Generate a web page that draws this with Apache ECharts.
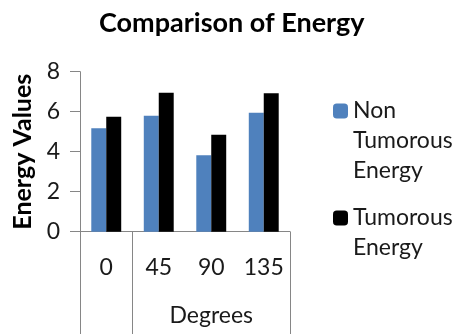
<!DOCTYPE html>
<html>
<head>
<meta charset="utf-8">
<script src="https://cdn.jsdelivr.net/npm/echarts@6/dist/echarts.min.js"></script>
<style>
html,body{margin:0;padding:0;background:#fff;}
#c{width:465px;height:334px;}
</style>
</head>
<body>
<div id="c"></div>
<script>
var categories = ['0', '45', '90', '135'];
var nonTumorous = [5.17, 5.8, 3.82, 5.95];
var tumorous = [5.75, 6.95, 4.85, 6.92];
var yTicks = [0, 2, 4, 6, 8];
var groupLabel = 'Degrees';
var seriesNames = ['Non Tumorous Energy', 'Tumorous Energy'];
var legendLines = [['Non', 'Tumorous', 'Energy'], ['Tumorous', 'Energy']];

var FONT = 'Lato';
var chart = echarts.init(document.getElementById('c'), null, {renderer: 'canvas'});
var axisGray = '#868686';
var textCol = '#1a1a1a';
var L = 30;

function legendText(lines) {
  // leading blank lines so the first line sits level with the icon
  var pad = '';
  for (var i = 0; i < lines.length - 1; i++) pad += ' \n';
  return pad + lines.join('\n');
}

chart.setOption({
  animation: false,
  backgroundColor: '#fff',
  title: {
    text: 'Comparison of Energy',
    left: 94, top: 5,
    textStyle: {fontFamily: FONT, fontWeight: 'bold', fontSize: 27, color: '#000'}
  },
  legend: [{
    data: [seriesNames[0]],
    left: 333, top: 111 - 2.5 * L,
    itemWidth: 15, itemHeight: 15,
    padding: 0,
    formatter: function () { return legendText(legendLines[0]); },
    textStyle: {fontFamily: FONT, fontSize: 23, color: textCol, lineHeight: L}
  }, {
    data: [seriesNames[1]],
    left: 333, top: 218 - 1.5 * L,
    itemWidth: 15, itemHeight: 15,
    padding: 0,
    formatter: function () { return legendText(legendLines[1]); },
    textStyle: {fontFamily: FONT, fontSize: 23, color: textCol, lineHeight: L}
  }],
  grid: {left: 80, right: 175, top: 71.7, bottom: 102.3, containLabel: false},
  xAxis: [{
    type: 'category',
    data: categories,
    position: 'bottom',
    axisLine: {show: true, lineStyle: {color: axisGray, width: 1}},
    axisTick: {show: false},
    axisLabel: {fontFamily: FONT, fontSize: 23, color: textCol, margin: 24}
  }, {
    type: 'value',
    min: 0, max: 4, interval: 1,
    position: 'bottom',
    axisLine: {show: false},
    splitLine: {show: false},
    axisTick: {show: true, customValues: [0, 1, 4], length: 103, lineStyle: {color: axisGray, width: 1}},
    axisLabel: {
      show: true, customValues: [2.5], margin: 72,
      formatter: function () { return groupLabel; },
      fontFamily: FONT, fontSize: 23, color: textCol
    }
  }],
  yAxis: {
    type: 'value',
    min: yTicks[0], max: yTicks[yTicks.length - 1], interval: 2,
    name: 'Energy Values',
    nameLocation: 'middle',
    nameGap: 45,
    nameTextStyle: {fontFamily: FONT, fontWeight: 'bold', fontSize: 25, color: '#000'},
    axisLine: {show: true, lineStyle: {color: axisGray, width: 1}},
    axisTick: {show: true, length: 10, lineStyle: {color: axisGray}},
    splitLine: {show: false},
    axisLabel: {fontFamily: FONT, fontSize: 23, color: textCol, margin: 20}
  },
  series: [{
    name: seriesNames[0], type: 'bar', data: nonTumorous,
    itemStyle: {color: '#4F81BD'},
    barGap: '0%', barCategoryGap: '43%'
  }, {
    name: seriesNames[1], type: 'bar', data: tumorous,
    itemStyle: {color: '#000000'},
    barGap: '0%', barCategoryGap: '43%'
  }]
});
</script>
</body>
</html>
